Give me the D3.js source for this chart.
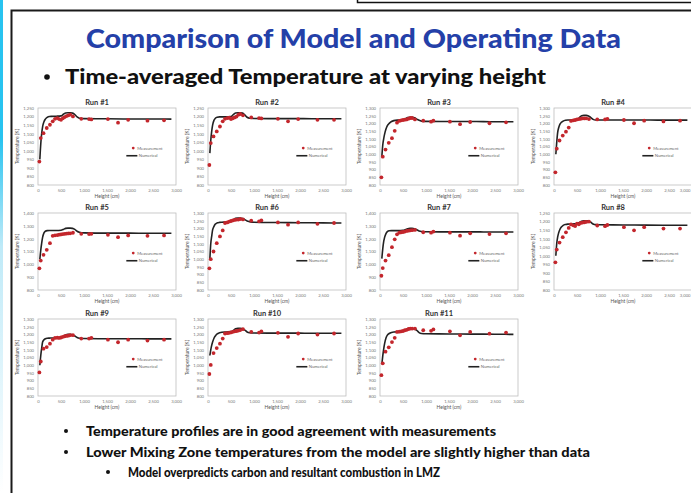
<!DOCTYPE html>
<html><head><meta charset="utf-8">
<script src="https://cdn.jsdelivr.net/npm/d3@7"></script>
<style>html,body{margin:0;padding:0;background:#fff;overflow:hidden}svg{display:block}</style>
</head><body><svg id="c" width="691" height="493"></svg>
<script>
// ---------- data ----------
const runNames = ["Run #1","Run #2","Run #3","Run #4","Run #5","Run #6","Run #7","Run #8","Run #9","Run #10","Run #11"];
const xTicks = [0,500,1000,1500,2000,2500,3000];
const yMaxs  = [1250,1250,1300,1300,1400,1300,1400,1250,1300,1300,1300];
const ySteps = [50,50,50,50,100,50,100,50,50,50,50];
const measHeights = [30,60,120,190,260,320,370,420,460,500,540,580,620,660,700,760,940,1110,1160,1520,1740,1960,2380,2740];
const numHeights  = [40,60,80,100,130,160,200,250,300,400,500,560,600,650,700,750,800,850,900,1000,1500,2000,2500,2900];

const meas1  = [937,1074,1103,1133,1152,1172,1187,1191,1185,1181,1190,1197,1203,1207,1211,1201,1187,1185,1183,1185,1164,1181,1176,1178];
const meas2  = [917,1045,1084,1113,1142,1172,1187,1191,1193,1185,1190,1195,1200,1211,1215,1207,1195,1191,1189,1187,1172,1185,1181,1181];
const meas3  = [850,984,1030,1074,1104,1152,1205,1216,1220,1222,1224,1226,1231,1235,1235,1226,1218,1211,1218,1211,1195,1209,1201,1207];
const meas4  = [882,1036,1089,1121,1146,1173,1216,1220,1222,1226,1228,1230,1233,1232,1233,1228,1226,1226,1230,1222,1201,1218,1213,1218];
const meas5  = [969,1029,1074,1113,1165,1222,1226,1228,1231,1233,1236,1238,1240,1241,1242,1246,1238,1236,1238,1230,1212,1225,1222,1225];
const meas6  = [941,1000,1050,1104,1148,1187,1235,1239,1244,1248,1252,1255,1257,1257,1261,1258,1250,1246,1252,1239,1224,1239,1230,1235];
const meas7  = [911,971,1029,1071,1134,1195,1234,1247,1250,1252,1255,1260,1262,1265,1266,1268,1250,1247,1255,1247,1223,1242,1236,1242];
const meas8  = [962,1036,1077,1109,1137,1163,1183,1178,1174,1188,1184,1192,1194,1196,1198,1200,1177,1173,1180,1167,1149,1167,1159,1159];
const meas9  = [953,1024,1107,1118,1140,1166,1177,1179,1177,1180,1184,1188,1190,1192,1195,1195,1173,1173,1178,1166,1149,1166,1160,1166];
const meas10 = [943,1002,1079,1111,1140,1173,1206,1208,1210,1213,1217,1220,1222,1225,1228,1234,1217,1212,1219,1210,1184,1206,1199,1206];
const meas11 = [935,1012,1088,1116,1150,1178,1216,1218,1220,1222,1227,1230,1235,1238,1238,1238,1227,1223,1232,1220,1194,1216,1205,1212];

const num1  = [950,1040,1100,1140,1170,1185,1195,1200,1201,1202,1204,1215,1221,1222,1222,1220,1212,1198,1190,1188,1187,1186,1186,1185];
const num2  = [986,1060,1113,1150,1178,1190,1196,1198,1198,1198,1200,1214,1221,1222,1222,1220,1210,1196,1190,1189,1188,1188,1187,1187];
const num3  = [984,1060,1100,1130,1163,1185,1200,1212,1218,1222,1224,1232,1238,1240,1240,1236,1228,1220,1215,1213,1212,1212,1211,1211];
const num4  = [1000,1080,1142,1170,1195,1207,1215,1220,1222,1222,1224,1240,1250,1252,1252,1248,1238,1226,1222,1222,1222,1222,1221,1221];
const num5  = [1040,1110,1165,1210,1245,1258,1263,1264,1264,1264,1266,1274,1280,1282,1282,1280,1272,1258,1250,1245,1243,1243,1242,1242];
const num6  = [1000,1100,1148,1190,1213,1228,1236,1239,1240,1241,1245,1258,1266,1268,1268,1265,1257,1248,1244,1240,1238,1237,1236,1235];
const num7  = [1045,1120,1176,1210,1240,1255,1262,1263,1263,1263,1265,1272,1278,1280,1280,1278,1270,1260,1256,1254,1253,1253,1252,1252];
const num8  = [1000,1073,1110,1133,1155,1168,1178,1183,1185,1186,1188,1196,1202,1205,1205,1203,1196,1186,1182,1181,1180,1179,1178,1178];
const num9  = [1000,1063,1110,1150,1165,1172,1175,1176,1177,1177,1178,1188,1196,1200,1200,1198,1190,1180,1175,1173,1172,1172,1171,1171];
const num10 = [1063,1100,1129,1150,1175,1190,1203,1210,1214,1216,1218,1228,1236,1239,1239,1236,1228,1216,1211,1209,1208,1208,1207,1207];
const num11 = [1006,1060,1105,1140,1176,1195,1206,1213,1216,1217,1220,1230,1236,1238,1238,1235,1226,1212,1206,1204,1203,1202,1201,1200];

const measAll = [meas1,meas2,meas3,meas4,meas5,meas6,meas7,meas8,meas9,meas10,meas11];
const numAll  = [num1,num2,num3,num4,num5,num6,num7,num8,num9,num10,num11];

const slideTitle = "Comparison of Model and Operating Data";
const subTitle = "Time-averaged Temperature at varying height";
const bullets = ["Temperature profiles are in good agreement with measurements",
                 "Lower Mixing Zone temperatures from the model are slightly higher than data",
                 "Model overpredicts carbon and resultant combustion in LMZ"];

// ---------- drawing ----------
const svg = d3.select("#c");
const FONT = "Lato, 'Open Sans', 'Liberation Sans', sans-serif";

// left blue strip
const defs = svg.append("defs");
const g1 = defs.append("linearGradient").attr("id","strip").attr("x1",0).attr("y1",0).attr("x2",0).attr("y2",1);
g1.append("stop").attr("offset","0").attr("stop-color","#27c3f0");
g1.append("stop").attr("offset","0.28").attr("stop-color","#27c3f0");
g1.append("stop").attr("offset","0.5").attr("stop-color","#bfeaf8");
g1.append("stop").attr("offset","1").attr("stop-color","#ffffff");
svg.append("rect").attr("x",0).attr("y",0).attr("width",3).attr("height",493).attr("fill","url(#strip)");

// frame
svg.append("rect").attr("x",357.5).attr("y",-5).attr("width",340).attr("height",7.5)
  .attr("fill","none").attr("stroke","#111").attr("stroke-width",1.5);
svg.append("path").attr("d","M11.5,500 V10.5 H700").attr("fill","none").attr("stroke","#1a1a1a").attr("stroke-width",2);

// titles
svg.append("text").attr("x",86).attr("y",48).text(slideTitle)
  .attr("font-family",FONT).attr("font-weight",900).attr("font-size",26)
  .attr("fill","#2440a8").attr("textLength",535).attr("lengthAdjust","spacingAndGlyphs");
svg.append("circle").attr("cx",47).attr("cy",77).attr("r",2.8).attr("fill","#111");
svg.append("text").attr("x",65).attr("y",84).text(subTitle)
  .attr("font-family",FONT).attr("font-weight",900).attr("font-size",20)
  .attr("fill","#111").attr("textLength",481).attr("lengthAdjust","spacingAndGlyphs");

// bottom bullets
const bulletPos = [{bx:66,tx:86,y:431,w:410},{bx:66,tx:86,y:452,w:504},{bx:108,tx:128,y:472,w:312}];
bullets.forEach((t,i)=>{
  const p = bulletPos[i];
  svg.append("circle").attr("cx",p.bx).attr("cy",p.y).attr("r",2).attr("fill","#111");
  svg.append("text").attr("x",p.tx).attr("y",p.y+5).text(t)
    .attr("font-family",FONT).attr("font-weight",900).attr("font-size",14)
    .attr("fill","#111").attr("textLength",p.w).attr("lengthAdjust","spacingAndGlyphs");
});

// small charts
const colLeft = [38,208,380,554];
const rowTop = [108,213,319];
const pw = 138, ph = 77;
const fmt = d3.format(",");
const red = "#c3262c";

runNames.forEach((name,i)=>{
  const L = colLeft[i%4], T = rowTop[Math.floor(i/4)];
  const x = d3.scaleLinear().domain([0,3000]).range([L,L+pw]);
  const y = d3.scaleLinear().domain([800,yMaxs[i]]).range([T+ph,T]);
  const g = svg.append("g");

  g.append("rect").attr("x",L).attr("y",T).attr("width",pw).attr("height",ph)
    .attr("fill","#fff").attr("stroke","#bdbdbd").attr("stroke-width",0.8);

  const yTicks = d3.range(800, yMaxs[i]+1, ySteps[i]);
  const ya = g.append("g").attr("transform",`translate(${L},0)`)
    .call(d3.axisLeft(y).tickValues(yTicks).tickSize(0).tickPadding(4).tickFormat(fmt));
  const xa = g.append("g").attr("transform",`translate(0,${T+ph})`)
    .call(d3.axisBottom(x).tickValues(xTicks).tickSize(0).tickPadding(4).tickFormat(fmt));
  [ya,xa].forEach(a=>{
    a.select(".domain").remove();
    a.selectAll("text").attr("font-family",FONT).attr("font-size",4.2).attr("fill","#777");
  });
  // keep labels that would run past the page edge inside it
  xa.selectAll(".tick").each(function(d){
    if (x(d) + 6 > 691) d3.select(this).select("text").attr("text-anchor","end").attr("x", 690 - x(d));
  });

  g.append("text").attr("x",L+pw/2).attr("y",T+ph+13).attr("text-anchor","middle")
    .attr("font-family",FONT).attr("font-size",5).attr("fill","#555").text("Height (cm)");
  g.append("text").attr("transform",`translate(${L-19},${T+ph/2}) rotate(-90)`).attr("text-anchor","middle")
    .attr("font-family",FONT).attr("font-size",5).attr("fill","#555").text("Temperature (K)");
  g.append("text").attr("x",L+pw/2-10).attr("y",T-3).attr("text-anchor","middle")
    .attr("font-family",FONT).attr("font-weight",700).attr("font-size",7.5).attr("fill","#333").text(name);

  // numerical line
  const line = d3.line().curve(d3.curveMonotoneX).x((d,j)=>x(numHeights[j])).y(d=>y(d));
  g.append("path").datum(numAll[i]).attr("d",line).attr("fill","none")
    .attr("stroke","#222").attr("stroke-width",1.6);

  // measurements
  g.selectAll(".m").data(measAll[i]).join("circle")
    .attr("cx",(d,j)=>x(measHeights[j])).attr("cy",d=>y(d)).attr("r",1.9).attr("fill",red);

  // legend
  const lx = L+0.69*pw, ly = T+0.52*ph;
  g.append("circle").attr("cx",lx).attr("cy",ly).attr("r",1.4).attr("fill",red);
  g.append("text").attr("x",lx+4).attr("y",ly+1.5).attr("font-family",FONT).attr("font-size",4.2)
    .attr("fill","#666").text("Measurement");
  g.append("line").attr("x1",L+0.64*pw).attr("x2",L+0.72*pw).attr("y1",T+0.62*ph).attr("y2",T+0.62*ph)
    .attr("stroke","#222").attr("stroke-width",1.6);
  g.append("text").attr("x",L+0.73*pw).attr("y",T+0.62*ph+1.5).attr("font-family",FONT).attr("font-size",4.2)
    .attr("fill","#666").text("Numerical");
});
</script></body></html>
